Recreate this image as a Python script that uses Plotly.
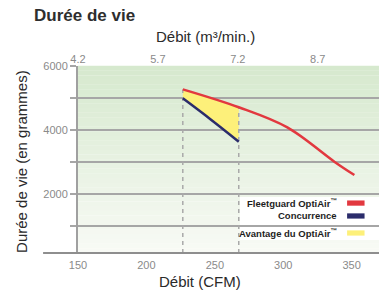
import plotly.graph_objects as go

# ---- data ----
cfm_ticks = [150, 200, 250, 300, 350]
m3_ticks = [4.2, 5.7, 7.2, 8.7]
life_major = [2000, 4000, 6000]
life_minor = [1000, 3000, 5000]

optiair_cfm = [226.6, 267.5, 303, 337.6, 352]
optiair_life = [5270, 4710, 4080, 3000, 2590]
concurrence_cfm = [226.6, 247, 267.5]
concurrence_life = [4990, 4330, 3634]

legend_labels = ["Fleetguard OptiAir<sup>™</sup>", "Concurrence", "Avantage du OptiAir<sup>™</sup>"]
title_text = "Durée de vie"
x_title = "Débit (CFM)"
x2_title = "Débit (m³/min.)"
y_title = "Durée de vie (en grammes)"

RED = "#e2383f"
NAVY = "#2b2c6b"
YELLOW = "#fdf07a"
GRID = "#a6a6a6"
TICKC = "#8a8a8a"
FONT = "Liberation Sans, Arial, sans-serif"

Y_MIN, Y_MAX = 150, 6002
X_MIN, X_MAX = 150, 370
M3_PER_CFM = 1 / 38.93

fig = go.Figure()

# advantage area (between the two curves over the common range)
adv_x = optiair_cfm[:2] + concurrence_cfm[::-1]
adv_y = optiair_life[:2] + concurrence_life[::-1]
fig.add_trace(go.Scatter(x=adv_x, y=adv_y, fill="toself", fillcolor=YELLOW,
                         mode="none", hoverinfo="skip", showlegend=False))

# dashed verticals at the comparison limits
for xi, yi in [(optiair_cfm[0], optiair_life[0]), (optiair_cfm[1], optiair_life[1])]:
    fig.add_trace(go.Scatter(x=[xi, xi], y=[Y_MIN, yi], mode="lines",
                             line=dict(color="#a9a9a9", width=1.5, dash="4px,4px"),
                             hoverinfo="skip", showlegend=False))

fig.add_trace(go.Scatter(x=concurrence_cfm, y=concurrence_life, mode="lines",
                         line=dict(color=NAVY, width=2.5, shape="spline"),
                         showlegend=False))
fig.add_trace(go.Scatter(x=optiair_cfm, y=optiair_life, mode="lines",
                         line=dict(color=RED, width=2.5, shape="spline", smoothing=1),
                         showlegend=False))
# same OptiAir curve, expressed in m3/min, on the top axis (invisible; makes the top axis render)
fig.add_trace(go.Scatter(x=[m3_ticks[0] + (c - X_MIN) * M3_PER_CFM for c in optiair_cfm],
                         y=optiair_life, xaxis="x2", mode="lines",
                         line=dict(color="rgba(0,0,0,0)", width=0),
                         hoverinfo="skip", showlegend=False))

shapes = []
# vertical green gradient background
n = 40
top = (214, 233, 206)
bot = (248, 250, 245)
for i in range(n):
    t = i / (n - 1)
    c = tuple(round(top[k] + (bot[k] - top[k]) * t) for k in range(3))
    shapes.append(dict(type="rect", xref="paper", yref="paper",
                       x0=0, x1=1, y0=1 - (i + 1) / n, y1=1 - i / n + 0.001,
                       fillcolor="rgb(%d,%d,%d)" % c, line=dict(width=0), layer="below"))
# white legend panel
shapes.append(dict(type="rect", xref="paper", yref="paper", x0=0.538, x1=1.0,
                   y0=0.07, y1=0.30, fillcolor="white", line=dict(width=0), layer="below"))
# bottom baseline (extends left of the axis)
shapes.append(dict(type="line", xref="paper", yref="paper", x0=-0.116, x1=1.0,
                   y0=0, y1=0, line=dict(color="#8e8e8e", width=2)))

# legend swatches
sw_colors = [RED, NAVY, YELLOW]
sw_y = [0.267, 0.198, 0.107]
for col, yc in zip(sw_colors, sw_y):
    shapes.append(dict(type="rect", xref="paper", yref="paper", x0=0.894, x1=0.952,
                       y0=yc - 0.014, y1=yc + 0.014, fillcolor=col, line=dict(width=0)))

annotations = []
for lab, yc in zip(legend_labels, sw_y):
    annotations.append(dict(text="<b>%s</b>" % lab, xref="paper", yref="paper",
                            x=0.866, y=yc, xanchor="right", yanchor="middle",
                            showarrow=False, font=dict(family=FONT, size=9.5, color="#1e1e1e")))

annotations += [
    dict(text="<b>%s</b>" % title_text, xref="paper", yref="paper", x=-0.153, y=1.27,
         xanchor="left", yanchor="middle", showarrow=False,
         font=dict(family=FONT, size=17, color="#2e2e2e")),
    dict(text=x2_title, xref="paper", yref="paper", x=0.422, y=1.16,
         xanchor="center", yanchor="middle", showarrow=False,
         font=dict(family=FONT, size=15, color="#2a2a2a")),
    dict(text=x_title, xref="paper", yref="paper", x=0.404, y=-0.152,
         xanchor="center", yanchor="middle", showarrow=False,
         font=dict(family=FONT, size=15, color="#2a2a2a")),
    dict(text=y_title, xref="paper", yref="paper", x=-0.186, y=0.487,
         xanchor="center", yanchor="middle", showarrow=False, textangle=-90,
         font=dict(family=FONT, size=15, color="#2a2a2a")),
]

fig.update_layout(
    width=379, height=291,
    margin=dict(l=78, r=0, t=66, b=38),
    paper_bgcolor="white", plot_bgcolor="white",
    showlegend=False,
    shapes=shapes, annotations=annotations,
    font=dict(family=FONT),
    xaxis=dict(range=[X_MIN, X_MAX], tickvals=cfm_ticks, showgrid=False, zeroline=False,
               showline=False, ticks="", ticklabelstandoff=4,
               tickfont=dict(size=11, color=TICKC)),
    xaxis2=dict(range=[m3_ticks[0], m3_ticks[0] + (X_MAX - X_MIN) * M3_PER_CFM],
                overlaying="x", side="top", anchor="y", tickvals=m3_ticks,
                ticktext=[str(v) for v in m3_ticks],
                showgrid=False, zeroline=False, showline=False, ticks="",
                tickfont=dict(size=11, color=TICKC)),
    yaxis=dict(range=[Y_MIN, Y_MAX], tickvals=life_major,
               showgrid=True, gridcolor=GRID, gridwidth=2, zeroline=False,
               showline=True, linecolor="#a0a0a0", linewidth=2,
               ticks="outside", ticklen=6, tickwidth=2, tickcolor=GRID,
               tickfont=dict(size=11, color=TICKC),
               minor=dict(tickvals=life_minor, showgrid=True, gridcolor=GRID, gridwidth=2,
                          ticks="outside", ticklen=6, tickwidth=2, tickcolor=GRID)),
)

fig.write_html("out.html", config={"displayModeBar": False},
               post_script="document.body.style.margin='0';")
